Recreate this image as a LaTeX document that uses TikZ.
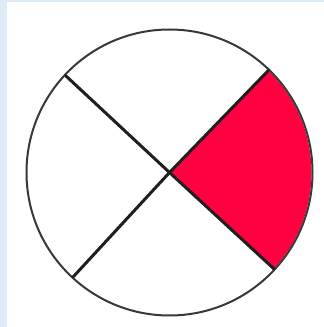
\documentclass[tikz,border=0pt]{standalone}
\usetikzlibrary{calc}
\begin{document}
\begin{tikzpicture}[x=1pt,y=1pt,
  rim/.style={draw=black!78, line width=2pt},
  spoke/.style={draw=black!88, line width=3pt, line cap=round},
  sector/.style={fill=hotred}]
\definecolor{hotred}{RGB}{255,0,64}
\definecolor{bgblue}{RGB}{222,234,247}
\useasboundingbox (0,0) rectangle (324,327);
\fill[bgblue] (0,0) rectangle (324,327);
\fill[white] (7,0) rectangle (324,325);
\coordinate (c) at (169.5,154.5);
\coordinate (ur) at ($(c)+(45.9:142pt)$);
\coordinate (lr) at ($(c)+(-42.7:142pt)$);
\coordinate (ul) at ($(c)+(137:142pt)$);
\coordinate (ll) at ($(c)+(227.3:142pt)$);
\fill[sector] (c) -- (ur) arc[start angle=45.9, end angle=-42.7, radius=142pt] -- cycle;
\draw[rim] (c) circle[radius=143pt];
\draw[spoke] (ul) -- (c) -- (lr);
\draw[spoke] (ur) -- (c) -- (ll);
\end{tikzpicture}
\end{document}
